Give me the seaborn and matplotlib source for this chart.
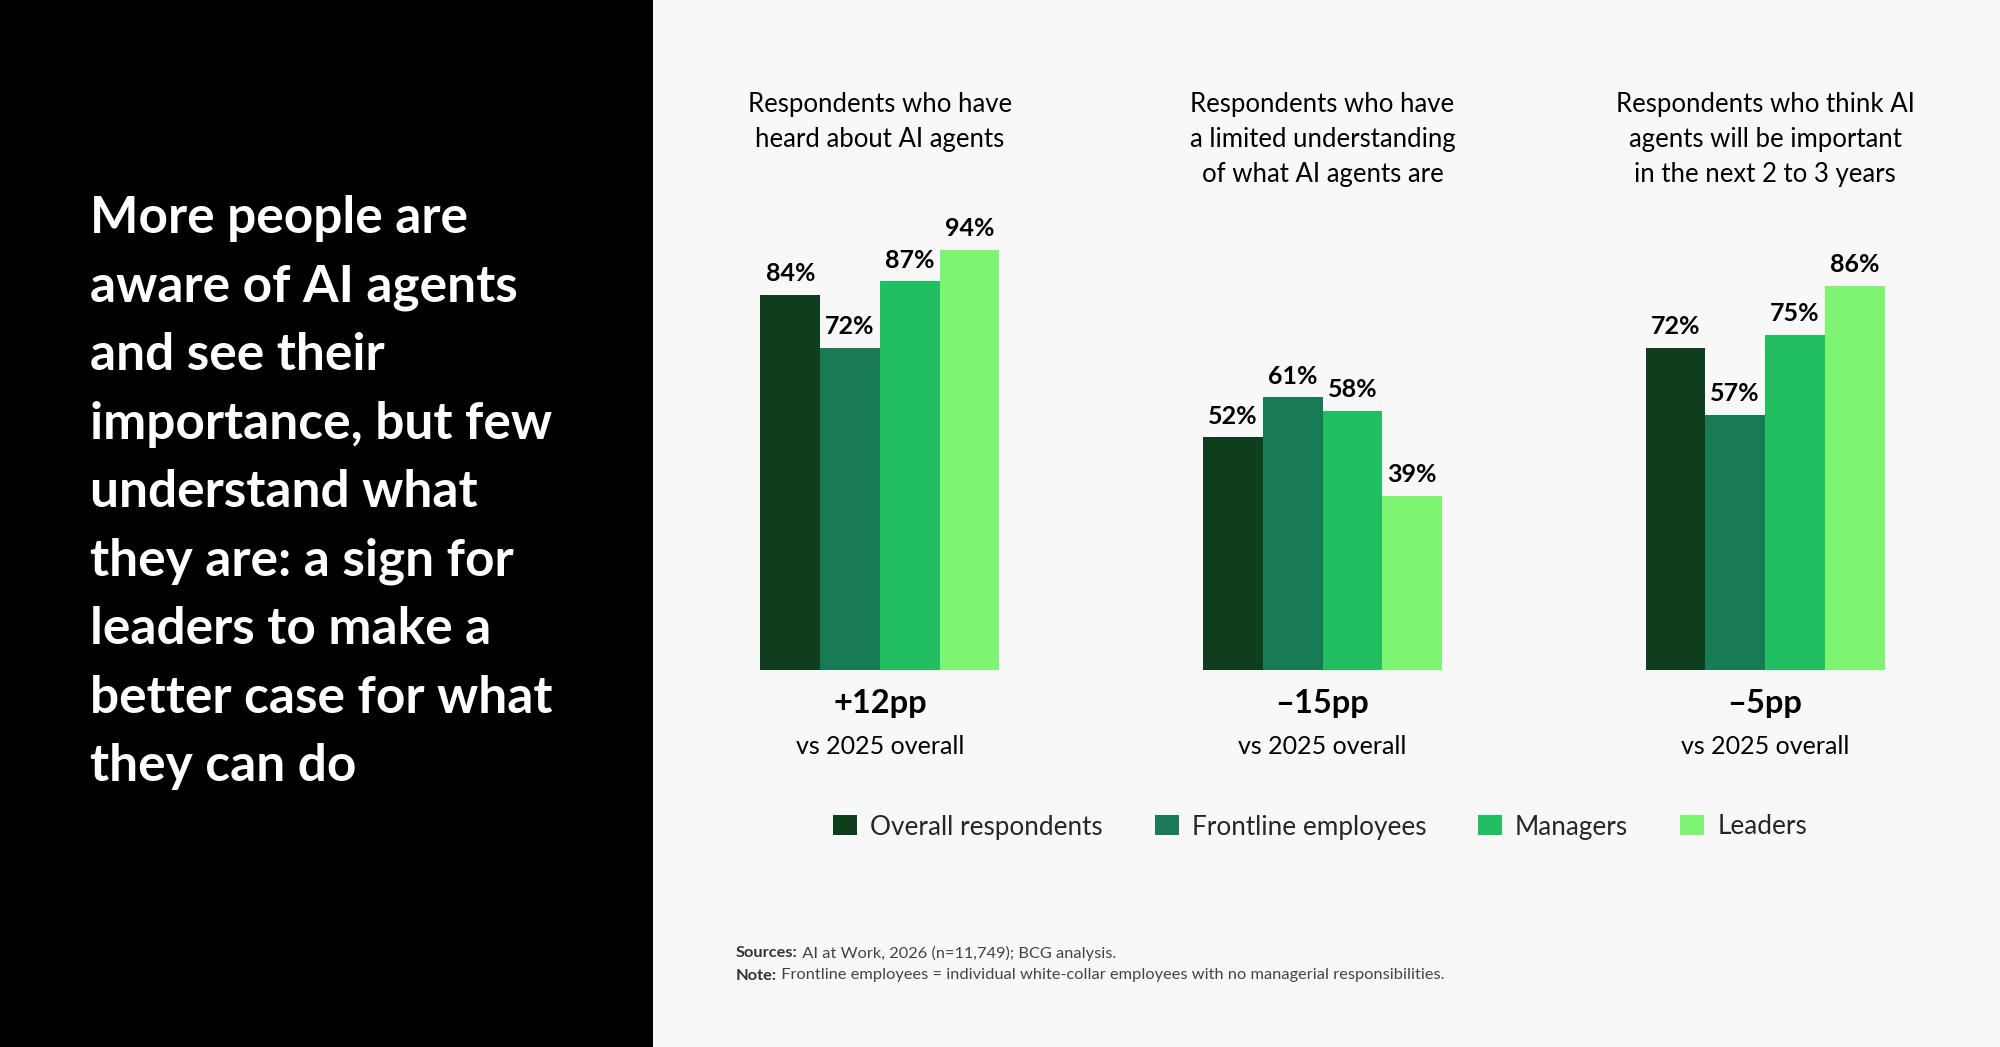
import matplotlib
matplotlib.use("Agg")
import matplotlib.pyplot as plt
import matplotlib.transforms as mtransforms
from matplotlib.patches import Rectangle
import seaborn as sns
import pandas as pd

# ---------------- data ----------------
questions = [
    "Respondents who have\nheard about AI agents",
    "Respondents who have\na limited understanding\nof what AI agents are",
    "Respondents who think AI\nagents will be important\nin the next 2 to 3 years",
]
groups = ["Overall respondents", "Frontline employees", "Managers", "Leaders"]
overall = [84, 52, 72]
frontline = [72, 61, 57]
managers = [87, 58, 75]
leaders = [94, 39, 86]
deltas = ["+12pp", "\u201315pp", "\u20135pp"]
delta_note = "vs 2025 overall"
colors = ["#0E3E1E", "#197A56", "#21BF61", "#7EF473"]
headline = ("More people are\naware of AI agents\nand see their\nimportance, but few\n"
            "understand what\nthey are: a sign for\nleaders to make a\n"
            "better case for what\nthey can do")
notes = [("Sources:", " AI at Work, 2026 (n=11,749); BCG analysis."),
         ("Note:", " Frontline employees = individual white-collar employees with no managerial responsibilities.")]

rows = []
for vals, g in zip([overall, frontline, managers, leaders], groups):
    for q, v in zip(questions, vals):
        rows.append({"question": q, "group": g, "value": v})
df = pd.DataFrame(rows)

# ---------------- figure ----------------
sns.set_theme(style="white")
plt.rcParams["font.family"] = ["Lato", "DejaVu Sans"]

W, H = 2000, 1047
fig = plt.figure(figsize=(W / 100, H / 100), dpi=100, facecolor="#F8F8F8")
fig.patches.append(Rectangle((0, 0), 653 / W, 1, transform=fig.transFigure,
                             facecolor="black", edgecolor="none", zorder=0))

fig.text(90 / W, 1 - 195 / H, headline, color="white", fontsize=37,
         fontweight="bold", ha="left", va="top", linespacing=1.563)

ax = fig.add_axes([658.7 / W, 377.4 / H, 1327.6 / W, 446.4 / H])
ax.set_facecolor("none")
sns.barplot(data=df, x="question", y="value", hue="group", order=questions,
            hue_order=groups, palette=colors, saturation=1, width=0.54,
            linewidth=0, ax=ax, legend=True)
ax.set_xlim(-0.5, 2.5)
ax.set_ylim(0, 100)
for c in ax.containers:
    ax.bar_label(c, fmt="%d%%", padding=7, fontsize=18, fontweight="bold",
                 color="black")

leg_handles, leg_labels = ax.get_legend_handles_labels()
ax.get_legend().remove()
ax.axis("off")

trans = mtransforms.blended_transform_factory(ax.transData, fig.transFigure)
for i, q in enumerate(questions):
    ax.text(i, 1 - 92 / H, q, transform=trans, ha="center", va="top",
            fontsize=18.5, linespacing=1.5, color="black")
    ax.text(i, 1 - 703 / H, deltas[i], transform=trans, ha="center",
            va="center", fontsize=23.5, fontweight="bold", color="black")
    ax.text(i, 1 - 746 / H, delta_note, transform=trans, ha="center",
            va="center", fontsize=18, color="black")

fig.legend(leg_handles, leg_labels, loc="center",
           bbox_to_anchor=(1320 / W, 1 - 827 / H), ncol=4, frameon=False,
           fontsize=18.8, handlelength=0.92, handleheight=0.8,
           handletextpad=0.49, columnspacing=2.0)

fig.canvas.draw()
renderer = fig.canvas.get_renderer()
for k, (b, rest) in enumerate(notes):
    y = 1 - (953 + 22.5 * k) / H
    t = fig.text(736 / W, y, b, fontsize=11.8, fontweight="bold",
                 color="#333333", ha="left", va="center")
    bb = t.get_window_extent(renderer)
    fig.text(bb.x1 / W, y, rest, fontsize=11.8, color="#444444",
             ha="left", va="center")

fig.savefig("out.png", dpi=100, facecolor=fig.get_facecolor())
